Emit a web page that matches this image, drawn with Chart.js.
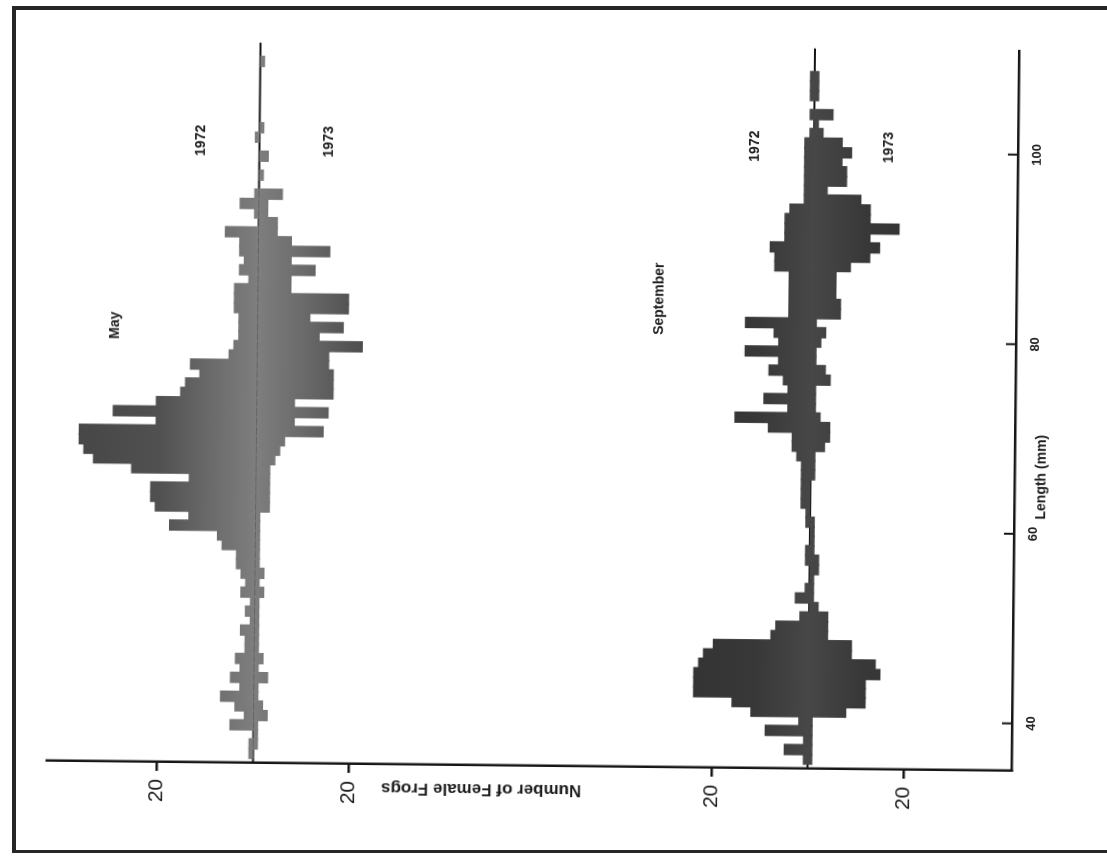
<!DOCTYPE html>
<html>
<head>
<meta charset="utf-8">
<script src="https://cdn.jsdelivr.net/npm/chart.js@4.4.1/dist/chart.umd.min.js"></script>
<style>
  html, body { margin: 0; padding: 0; background: #fff; }
  body { width: 1107px; height: 861px; overflow: hidden; position: relative; }
  #frame {
    position: absolute; left: 12px; top: 6px; width: 1100px; height: 840px;
    border-top: 4px solid #262626; border-left: 4px solid #262626; border-bottom: 3px solid #262626;
  }
  /* the figure is laid out upright, then turned a quarter turn like the printed page */
  #page {
    position: absolute; left: 123px; top: -123px; width: 861px; height: 1107px;
    transform: rotate(-89.4deg);
  }
</style>
</head>
<body>
<div id="frame"></div>
<div id="page"><canvas id="frogs" width="861" height="1107"></canvas></div>
<script>
// length classes (mm)
var lengths = [36,37,38,39,40,41,42,43,44,45,46,47,48,49,50,51,52,53,54,55,
  56,57,58,59,60,61,62,63,64,65,66,67,68,69,70,71,72,73,74,75,
  76,77,78,79,80,81,82,83,84,85,86,87,88,89,90,91,92,93,94,95,
  96,97,98,99,100,101,102,103,104,105,106,107,108,109,110];

// number of female frogs per length class
var may1972 = [1,1,0,5,2,4,7,3,5,3,4,2,2,3,1,2,1,3,2,3,
  4,4,7,8,18,14,21,22,22,14,26,34,36,37,37,21,30,21,16,15,
  12,14,6,5,4,4,4,5,5,5,2,4,3,4,4,7,0,1,4,1,
  0,0,0,0,0,1,0,0,0,0,0,0,0,0,0];
var may1973 = [0,1,1,1,3,2,1,1,3,1,2,1,1,1,1,1,1,2,1,2,
  1,1,1,1,1,1,3,3,3,3,3,4,5,6,14,8,15,8,16,16,
  16,15,15,22,13,18,11,19,19,7,7,12,7,15,7,4,4,2,2,5,
  0,1,0,2,0,0,1,0,0,0,0,0,0,1,0];
var sep1972 = [1,5,1,9,2,12,16,24,24,24,23,22,20,8,7,2,0,3,1,0,
  0,1,1,0,0,1,1,2,2,2,2,2,3,4,4,9,16,5,10,5,
  6,9,7,14,7,8,14,5,5,5,5,5,8,8,9,6,6,6,5,2,
  2,2,2,2,2,2,1,0,1,0,1,1,1,0,0];
var sep1973 = [1,1,1,1,1,8,12,12,12,15,14,9,9,4,4,4,2,1,1,1,
  2,2,1,1,1,1,0,0,0,0,1,1,1,3,4,4,2,1,1,1,
  4,3,1,1,2,3,1,6,6,5,5,5,8,12,14,12,18,12,12,10,
  3,7,7,6,8,6,2,1,4,0,1,1,1,0,0];

var countTicks = [20];
var lengthTicks = [40, 60, 80, 100];

// where each month's zero line sits on the count scale
var MAY_BASE = 158;
var SEP_BASE = 42.5;

var labelFont = "'Liberation Sans', Arial, sans-serif";

// 1972 grows upward from the zero line, 1973 downward
function side(values, base, dir) {
  return lengths.map(function (len, i) {
    return { x: len, y: [base, base + dir * values[i]] };
  });
}

function zeroLine(base) {
  return [{ x: 35, y: base }, { x: 111, y: base }];
}

// printed tone: paler near the zero line, darker toward the bar ends
function shade(base, dir, stops, flat) {
  return function (c) {
    var chart = c.chart, y = chart.scales.y;
    if (!chart.chartArea || !y) return flat;
    var g = chart.ctx.createLinearGradient(0, y.getPixelForValue(base), 0, y.getPixelForValue(base + dir * 37));
    stops.forEach(function (s) { g.addColorStop(s[0], s[1]); });
    return g;
  };
}
var mayTone = [[0, '#7e7e7e'], [0.25, '#6b6b6b'], [0.55, '#505050'], [1, '#474747']];
var sepTone = [[0, '#474747'], [0.3, '#383838'], [1, '#303030']];

var annotate = {
  id: 'annotate',
  afterDraw: function (chart) {
    var ctx = chart.ctx, area = chart.chartArea;
    var x = chart.scales.x, y = chart.scales.y;
    ctx.save();

    // length ticks point into the plot
    ctx.strokeStyle = '#161616';
    ctx.lineWidth = 2;
    lengthTicks.forEach(function (v) {
      var px = x.getPixelForValue(v);
      ctx.beginPath();
      ctx.moveTo(px, area.bottom);
      ctx.lineTo(px, area.bottom - 10);
      ctx.stroke();
    });

    ctx.fillStyle = '#1c1c1c';
    ctx.textAlign = 'center';
    ctx.textBaseline = 'middle';
    ctx.font = 'bold 14px ' + labelFont;
    function put(text, len, val) {
      ctx.fillText(text, x.getPixelForValue(len), y.getPixelForValue(val));
    }
    put('May', 81.0, MAY_BASE + 29.7);
    put('1972', 100.6, MAY_BASE + 12.1);
    put('1973', 100.6, MAY_BASE - 14.5);
    put('September', 84.4, SEP_BASE + 31.9);
    put('1972', 100.6, SEP_BASE + 12.2);
    put('1973', 100.6, SEP_BASE - 15.6);

    ctx.fillText('Length (mm)', x.getPixelForValue(66), area.bottom + 27);

    ctx.translate(area.left - 24, y.getPixelForValue(110.4));
    ctx.rotate(-Math.PI / 2);
    ctx.font = 'bold 17px ' + labelFont;
    ctx.fillText('Number of Female Frogs', 0, 0);
    ctx.restore();
  }
};

function barSet(label, data, color) {
  return {
    label: label,
    data: data,
    backgroundColor: color,
    borderWidth: 0,
    barPercentage: 1.2,
    categoryPercentage: 1,
    grouped: false,
    order: 1
  };
}

function lineSet(data) {
  return {
    type: 'line',
    data: data,
    borderColor: '#141414',
    borderWidth: 2,
    pointRadius: 0,
    order: 2
  };
}

new Chart(document.getElementById('frogs'), {
  type: 'bar',
  data: {
    datasets: [
      lineSet(zeroLine(MAY_BASE)),
      lineSet(zeroLine(SEP_BASE)),
      barSet('May 1972', side(may1972, MAY_BASE, 1), shade(MAY_BASE, 1, mayTone, '#646464')),
      barSet('May 1973', side(may1973, MAY_BASE, -1), shade(MAY_BASE, -1, mayTone, '#646464')),
      barSet('September 1972', side(sep1972, SEP_BASE, 1), shade(SEP_BASE, 1, sepTone, '#383838')),
      barSet('September 1973', side(sep1973, SEP_BASE, -1), shade(SEP_BASE, -1, sepTone, '#383838'))
    ]
  },
  options: {
    responsive: false,
    animation: false,
    devicePixelRatio: 1,
    layout: { padding: { top: 50, right: 45.5, bottom: 0, left: 0 } },
    plugins: { legend: { display: false }, tooltip: { enabled: false } },
    scales: {
      x: {
        type: 'linear',
        min: 35,
        max: 111,
        offset: false,
        afterBuildTicks: function (s) {
          s.ticks = lengthTicks.map(function (v) { return { value: v }; });
        },
        afterFit: function (s) { s.height = 92; },
        grid: { offset: false, drawOnChartArea: false, drawTicks: false },
        border: { color: '#161616', width: 2.5 },
        ticks: {
          color: '#222',
          padding: 12,
          maxRotation: 0,
          font: { family: labelFont, size: 13, weight: 'bold' }
        }
      },
      y: {
        type: 'linear',
        min: 0,
        max: 201,
        afterBuildTicks: function (s) {
          var t = [];
          [SEP_BASE, MAY_BASE].forEach(function (b) {
            countTicks.forEach(function (c) {
              t.push({ value: b - c }, { value: b + c });
            });
          });
          s.ticks = t;
        },
        afterFit: function (s) { s.width = 95; },
        grid: { drawOnChartArea: false, tickLength: 9, color: '#161616', lineWidth: 2.5 },
        border: { color: '#161616', width: 2.5 },
        ticks: {
          color: '#1a1a1a',
          padding: 8,
          font: { family: labelFont, size: 21 },
          callback: function (v) {
            var base = Math.abs(v - MAY_BASE) < Math.abs(v - SEP_BASE) ? MAY_BASE : SEP_BASE;
            return String(Math.round(Math.abs(v - base)));
          }
        }
      }
    }
  },
  plugins: [annotate]
});
</script>
</body>
</html>
